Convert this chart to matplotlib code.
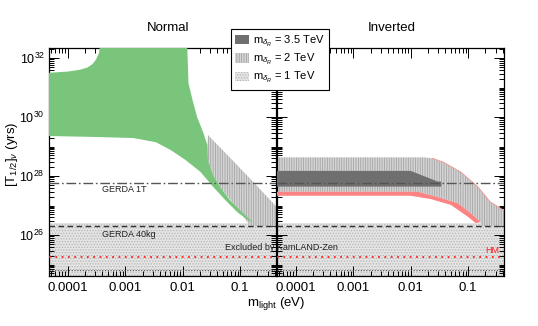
import numpy as np
import matplotlib
matplotlib.use('Agg')
import matplotlib.pyplot as plt
from matplotlib.patches import Patch
from matplotlib.ticker import FixedLocator, FixedFormatter, LogLocator, NullFormatter

plt.rcParams['font.family'] = ['Liberation Sans', 'DejaVu Sans']
plt.rcParams['mathtext.fontset'] = 'custom'
plt.rcParams['mathtext.rm'] = 'Liberation Sans'
plt.rcParams['mathtext.it'] = 'Liberation Sans:italic'
plt.rcParams['mathtext.bf'] = 'Liberation Sans:bold'
plt.rcParams['hatch.linewidth'] = 0.6

# ---------------- data ----------------
panel_titles = ['Normal', 'Inverted']
x_ticks = [1e-4, 1e-3, 1e-2, 1e-1]
x_tick_labels = ['0.0001', '0.001', '0.01', '0.1']
y_ticks = [1e26, 1e28, 1e30, 1e32]
y_tick_labels = [r'$10^{26}$', r'$10^{28}$', r'$10^{30}$', r'$10^{32}$']
x_range = (4.7e-5, 0.42)
y_range = (4.1e24, 2.2e32)

legend_labels = [r'm$_{\delta_R}$ = 3.5 TeV', r'm$_{\delta_R}$ = 2 TeV', r'm$_{\delta_R}$ = 1 TeV']

gerda_1t = 5.8e27
gerda_40kg = 2.0e26
kamland_limit = 2.6e26
hm_claim = 1.8e25
lower_dotted = 6.5e24

# Normal hierarchy: green band (closed outline)
nh_green_x = [4.0e-5, 1.0e-4, 1.6e-4, 2.2e-4, 2.7e-4, 3.1e-4, 3.5e-4, 3.9e-4,
              1.2e-2, 1.2e-2, 1.26e-2, 1.48e-2, 1.78e-2, 2.29e-2, 2.69e-2, 2.75e-2,
              3.39e-2, 4.47e-2, 6.6e-2, 1.07e-1, 1.66e-1,
              1.38e-1, 8.9e-2, 5.5e-2, 3.39e-2, 2.04e-2, 1.12e-2, 6.2e-3, 3.4e-3,
              1.38e-3, 3.7e-4, 4.0e-5]
nh_green_T = [3.1e31, 3.5e31, 4.0e31, 4.8e31, 6.3e31, 9.0e31, 1.5e32, 1e33,
              1e33, 2.2e32, 1.4e31, 3.8e30, 1.0e30, 2.9e29, 1.1e29, 3.5e28,
              1.07e28, 4.3e27, 1.55e27, 6.0e26, 2.75e26,
              3.2e26, 6.0e26, 1.55e27, 4.3e27, 1.38e28, 3.5e28, 7.6e28, 1.41e29,
              1.95e29, 2.1e29, 2.3e29]

# Normal hierarchy: 2 TeV hatched band
nh_2tev_x = [2.75e-2, 7.6e-2, 1.82e-1, 0.40, 0.5, 0.5, 0.15, 1.0e-1, 4.47e-2, 3.39e-2, 2.75e-2, 2.69e-2]
nh_2tev_T = [2.45e29, 3.2e28, 5.4e27, 1.05e27, 6.6e26, 2.0e26, 2.0e26, 6.0e26, 4.3e27, 1.07e28, 3.5e28, 1.1e29]

# Inverted hierarchy: 2 TeV hatched band, upper edge
ih_2tev_top_x = [4.0e-5, 1.7e-2, 2.4e-2, 3.7e-2, 7.4e-2, 0.148, 0.245, 0.415, 0.5]
ih_2tev_top_T = [4.3e28, 4.3e28, 4.0e28, 2.95e28, 1.38e28, 4.3e27, 1.3e27, 7.0e26, 5.5e26]

# Inverted hierarchy: pink band
ih_pink_top_x = [4.0e-5, 1.32e-2, 2.95e-2, 6.6e-2, 0.11, 0.166]
ih_pink_top_T = [2.95e27, 2.95e27, 1.95e27, 1.2e27, 5.6e26, 2.75e26]
ih_pink_bot_x = [4.0e-5, 1.0e-2, 2.24e-2, 5.0e-2, 0.10, 0.135]
ih_pink_bot_T = [2.15e27, 2.15e27, 1.66e27, 1.05e27, 4.1e26, 2.55e26]

# Inverted hierarchy: 3.5 TeV dark band
ih_35tev_x = [4.0e-5, 1.0e-2, 2.95e-2, 3.4e-2, 3.4e-2, 4.0e-5]
ih_35tev_T = [1.5e28, 1.5e28, 6.5e27, 6.5e27, 4.4e27, 4.4e27]

# ---------------- style ----------------
GREEN = '#79c57b'
PINK = '#fb8383'
DARK = '#6f6f6f'
HATCH_FACE = '#d4d4d4'
HATCH_EDGE = '#a4a4a4'
DOT_FACE = '#e4e4e4'
DOT_EDGE = '#b4b4b4'

W, H = 538, 326
fig = plt.figure(figsize=(W / 100, H / 100), dpi=100)
ax0 = fig.add_axes([49 / W, 1 - 276 / H, 227 / W, 228 / H])
ax1 = fig.add_axes([277 / W, 1 - 276 / H, 227 / W, 228 / H])

for ax in (ax0, ax1):
    ax.set_xscale('log')
    ax.set_yscale('log')
    ax.set_xlim(*x_range)
    ax.set_ylim(*y_range)
    # excluded region
    ax.fill_between([1e-6, 10], y_range[0] * 0.5, kamland_limit, facecolor=DOT_FACE,
                    edgecolor=DOT_EDGE, hatch='......', linewidth=0, zorder=1)
    ax.axhline(gerda_1t, color='#555555', lw=1.0, ls=(0, (7, 2, 1.2, 2)), zorder=5)
    ax.axhline(gerda_40kg, color='#333333', lw=1.0, ls=(0, (4, 2.5)), zorder=5)
    ax.axhline(hm_claim, color='#ff2020', lw=1.3, ls=(0, (1, 2.5)), zorder=5)
    ax.axhline(lower_dotted, color='#555555', lw=0.8, ls=(0, (1, 1.5)), zorder=5)
    ax.xaxis.set_major_locator(FixedLocator(x_ticks))
    ax.xaxis.set_major_formatter(FixedFormatter(x_tick_labels))
    ax.xaxis.set_minor_locator(LogLocator(base=10, subs=np.arange(2, 10), numticks=20))
    ax.xaxis.set_minor_formatter(NullFormatter())
    ax.yaxis.set_major_locator(FixedLocator(y_ticks))
    ax.yaxis.set_minor_locator(LogLocator(base=10, subs=np.arange(1, 10), numticks=20))
    ax.yaxis.set_minor_formatter(NullFormatter())
    ax.tick_params(which='both', direction='in', top=True, right=True, labelsize=9.5,
                   width=0.7, colors='black')
    ax.tick_params(axis='y', labelsize=9, pad=3)
    ax.tick_params(which='major', length=7)
    ax.tick_params(which='minor', length=3.5)
    ax.tick_params(axis='x', pad=4)
    for s in ax.spines.values():
        s.set_linewidth(0.9)
    ax.set_zorder(0)

ax0.yaxis.set_major_formatter(FixedFormatter(y_tick_labels))
ax1.yaxis.set_major_formatter(NullFormatter())

# Normal panel
ax0.fill(nh_2tev_x, nh_2tev_T, facecolor=HATCH_FACE, edgecolor=HATCH_EDGE, hatch='|||||||',
         linewidth=0, zorder=2)
ax0.fill(nh_green_x, nh_green_T, facecolor=GREEN, edgecolor='none', zorder=3)
ax0.text(3.9e-4, 3.6e27, 'GERDA 1T', ha='left', va='center', fontsize=6.5, color='#222222', zorder=6)
ax0.text(3.9e-4, 1.07e26, 'GERDA 40kg', ha='left', va='center', fontsize=6.5, color='#222222', zorder=6)

# Inverted panel
hx = ih_2tev_top_x + [0.5, 0.166] + ih_pink_top_x[::-1]
hT = ih_2tev_top_T + [2.0e26, 2.0e26] + ih_pink_top_T[::-1]
ax1.fill(hx, hT, facecolor=HATCH_FACE, edgecolor=HATCH_EDGE, hatch='|||||||',
         linewidth=0, zorder=2)
ax1.plot(ih_2tev_top_x[2:], ih_2tev_top_T[2:], color=PINK, lw=0.7, alpha=0.7, zorder=3)
ax1.fill(ih_pink_top_x + ih_pink_bot_x[::-1], ih_pink_top_T + ih_pink_bot_T[::-1],
         facecolor=PINK, edgecolor='none', zorder=3)
ax1.fill(ih_35tev_x, ih_35tev_T, facecolor=DARK, edgecolor='none', zorder=3)
ax1.text(0.267, 3.1e25, 'HM', ha='center', va='center', fontsize=6.5, color='#ff2020', zorder=6)

# figure texts
fig.text(168 / W, 1 - 28 / H, panel_titles[0], ha='center', va='center', fontsize=9.5)
fig.text(392 / W, 1 - 28 / H, panel_titles[1], ha='center', va='center', fontsize=9.5)
fig.text(281 / W, 1 - 248 / H, 'Excluded by KamLAND-Zen', ha='center', va='center',
         fontsize=6.5, color='#222222', zorder=10)
fig.text(276 / W, 1 - 303 / H, r'm$_{\mathrm{light}}$ (eV)', ha='center', va='center', fontsize=9.5)
fig.text(12 / W, 1 - 154 / H, r'[T$_{1/2}$]$_{\nu}$ (yrs)', ha='center', va='center',
         rotation=90, fontsize=9.5)

handles = [Patch(facecolor=DARK, edgecolor='none'),
           Patch(facecolor=HATCH_FACE, edgecolor=HATCH_EDGE, hatch='|||||||', linewidth=0),
           Patch(facecolor=DOT_FACE, edgecolor=DOT_EDGE, hatch='......', linewidth=0)]
leg = fig.legend(handles, legend_labels, loc='upper left',
                 bbox_to_anchor=(231 / W, 1 - 29 / H), bbox_transform=fig.transFigure,
                 frameon=True, fancybox=False, edgecolor='black', framealpha=1,
                 fontsize=8, handlelength=1.2, handleheight=0.9, handletextpad=0.4,
                 labelspacing=0.3, borderpad=0.4, borderaxespad=0)
leg.get_frame().set_linewidth(0.8)
leg.set_zorder(20)

fig.savefig('out.png', dpi=100)
